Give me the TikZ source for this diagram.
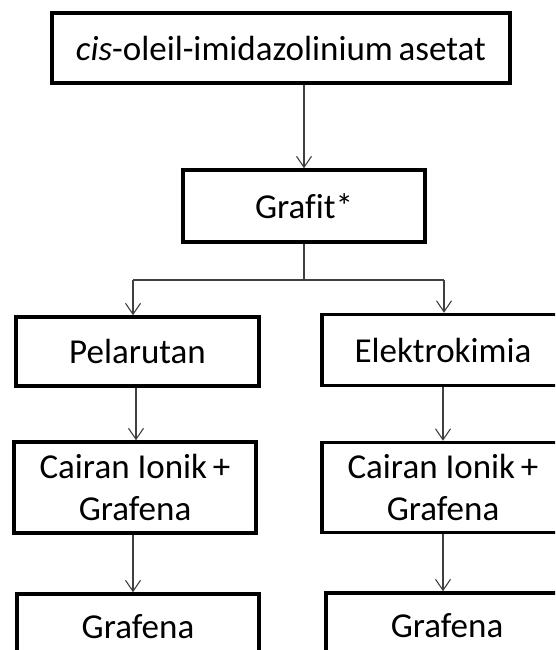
\documentclass[tikz,border=0pt]{standalone}
\usepackage{fontspec}
\setmainfont{Carlito}[Ligatures=NoCommon]
\usetikzlibrary{arrows.meta}
\begin{document}
\begin{tikzpicture}[x=1pt,y=1pt,
  box/.style={draw=black,line width=3.5pt,fill=white,inner sep=0pt,align=center,
    font=\fontsize{35}{42}\selectfont,text=black},
  conn/.style={draw=black!75,line width=1.1pt},
  arr/.style={conn,-{Straight Barb[length=11pt,width=15pt]}}]
\useasboundingbox (0,0) rectangle (555,-650);
\clip (0,0) rectangle (555,-650);
\fill[white] (0,0) rectangle (555,-650);
\node[box,minimum width=458pt,minimum height=70pt] (top) at (281,-48) {\textit{cis}-oleil-imidazolinium\,asetat};
\node[box,minimum width=242pt,minimum height=72pt] (grafit) at (304,-206) {Grafit*};
\node[box,minimum width=243pt,minimum height=69pt] (pel) at (137.5,-351.5) {Pelarutan};
\node[box,minimum width=242pt,minimum height=71pt] (elek) at (443,-350) {Elektrokimia};
\node[box,minimum width=242pt,minimum height=91pt] (cl) at (135,-487.5) {Cairan Ionik\,+\\Grafena};
\node[box,minimum width=242pt,minimum height=90pt] (cr) at (443,-487.5) {Cairan Ionik\,+\\Grafena};
\node[box,minimum width=242pt,minimum height=66pt] (gl) at (138,-627) {Grafena};
\node[box,minimum width=242pt,minimum height=66pt] (gr) at (447,-626) {Grafena};
\coordinate (split) at (304,-280);
\coordinate (sl) at (133,-280);
\coordinate (sr) at (444,-280);
\draw[arr] (grafit.north |- top.south) -- (grafit.north);
\draw[conn] (grafit.south) -- (split);
\draw[conn] (sl) -- (sr);
\draw[arr] (sl) -- (sl |- pel.north);
\draw[arr] (sr) -- (sr |- elek.north);
\draw[arr] ([xshift=-1.5pt]pel.south) -- ([xshift=-1.5pt]pel.south |- cl.north);
\draw[arr] (elek.south) -- (elek.south |- cr.north);
\draw[arr] ([xshift=-2pt]cl.south) -- ([xshift=-2pt]cl.south |- gl.north);
\draw[arr] (cr.south) -- (cr.south |- gr.north);
\end{tikzpicture}
\end{document}
